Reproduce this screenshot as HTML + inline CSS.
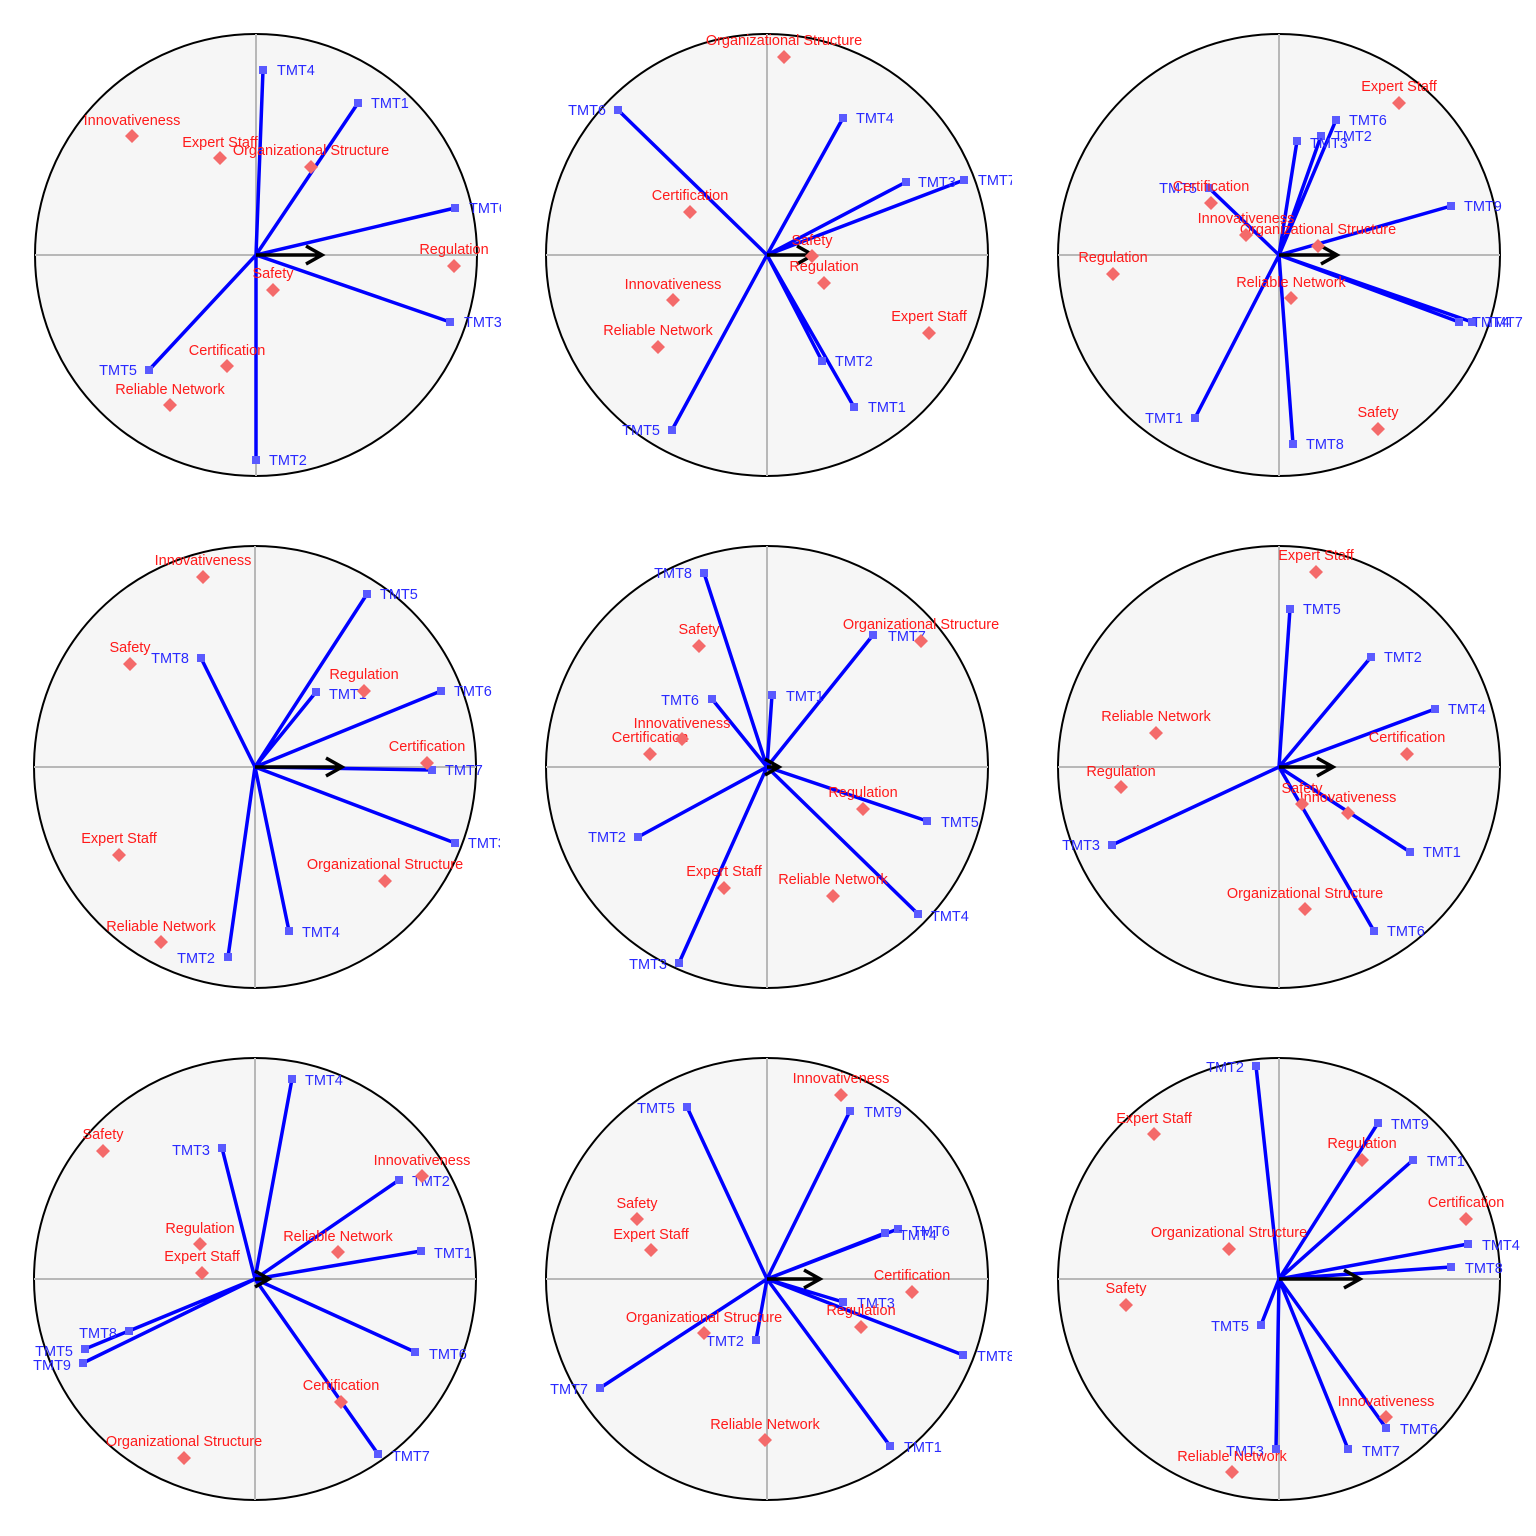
<!DOCTYPE html>
<html><head><meta charset="utf-8"><style>
html,body{margin:0;padding:0;background:#fff}
svg{display:block}
text{font-family:"Liberation Sans",Arial,sans-serif;font-size:14.5px}
.c{fill:#f6f6f6;stroke:#000;stroke-width:2}
.ax{stroke:#b8b8b8;stroke-width:2}
.ln{stroke:#0000ff;stroke-width:3.5;fill:none}
.sq{fill:#5a5aff}
.b{fill:#2a2aff}
.bl{fill:#2a2aff;text-anchor:end}
.r{fill:#ff1a1a;text-anchor:middle}
.d{fill:#f46a6a}
.ar{stroke:#000;stroke-width:3.5;fill:none}
</style></head><body>
<svg width="1536" height="1536" viewBox="0 0 1536 1536" xmlns="http://www.w3.org/2000/svg">
<defs>
<clipPath id="k1"><rect x="11" y="10" width="490" height="490"/></clipPath>
<clipPath id="k2"><rect x="522" y="10" width="490" height="490"/></clipPath>
<clipPath id="k3"><rect x="1034" y="10" width="490" height="490"/></clipPath>
<clipPath id="k4"><rect x="10" y="522" width="490" height="490"/></clipPath>
<clipPath id="k5"><rect x="522" y="522" width="490" height="490"/></clipPath>
<clipPath id="k6"><rect x="1034" y="522" width="490" height="490"/></clipPath>
<clipPath id="k7"><rect x="10" y="1034" width="490" height="490"/></clipPath>
<clipPath id="k8"><rect x="522" y="1034" width="490" height="490"/></clipPath>
<clipPath id="k9"><rect x="1034" y="1034" width="490" height="490"/></clipPath>
</defs>

<!-- Panel 1 -->
<g clip-path="url(#k1)">
<circle class="c" cx="256" cy="255" r="221"/>
<line class="ax" x1="35" y1="255" x2="477" y2="255"/><line class="ax" x1="256" y1="34" x2="256" y2="476"/>
<path class="ln" d="M256 255L263 70M256 255L358 103M256 255L455 208M256 255L450 322M256 255L256 460M256 255L149 370"/>
<path class="ar" d="M256 255H322M306 246L322 255L306 264"/>
<rect class="sq" x="259" y="66" width="8" height="8"/><rect class="sq" x="354" y="99" width="8" height="8"/><rect class="sq" x="451" y="204" width="8" height="8"/><rect class="sq" x="446" y="318" width="8" height="8"/><rect class="sq" x="252" y="456" width="8" height="8"/><rect class="sq" x="145" y="366" width="8" height="8"/>
<text class="b" x="277" y="75">TMT4</text><text class="b" x="371" y="108">TMT1</text><text class="b" x="469" y="213">TMT6</text><text class="b" x="464" y="327">TMT3</text><text class="b" x="269" y="465">TMT2</text><text class="bl" x="137" y="375">TMT5</text>
<text class="r" x="132" y="125">Innovativeness</text><text class="r" x="220" y="147">Expert Staff</text><text class="r" x="311" y="155">Organizational Structure</text><text class="r" x="454" y="254">Regulation</text><text class="r" x="273" y="278">Safety</text><text class="r" x="227" y="355">Certification</text><text class="r" x="170" y="394">Reliable Network</text>
<path class="d" d="M132 129l7 7-7 7-7-7zM220 151l7 7-7 7-7-7zM311 160l7 7-7 7-7-7zM454 259l7 7-7 7-7-7zM273 283l7 7-7 7-7-7zM227 359l7 7-7 7-7-7zM170 398l7 7-7 7-7-7z"/>
</g>

<!-- Panel 2 -->
<g clip-path="url(#k2)">
<circle class="c" cx="767" cy="255" r="221"/>
<line class="ax" x1="546" y1="255" x2="988" y2="255"/><line class="ax" x1="767" y1="34" x2="767" y2="476"/>
<path class="ln" d="M767 255L618 110M767 255L843 118M767 255L906 182M767 255L964 180M767 255L822 361M767 255L854 407M767 255L672 430"/>
<path class="ar" d="M767 255H813M797 246L813 255L797 264"/>
<rect class="sq" x="614" y="106" width="8" height="8"/><rect class="sq" x="839" y="114" width="8" height="8"/><rect class="sq" x="902" y="178" width="8" height="8"/><rect class="sq" x="960" y="176" width="8" height="8"/><rect class="sq" x="818" y="357" width="8" height="8"/><rect class="sq" x="850" y="403" width="8" height="8"/><rect class="sq" x="668" y="426" width="8" height="8"/>
<text class="bl" x="606" y="115">TMT6</text><text class="b" x="856" y="123">TMT4</text><text class="b" x="918" y="187">TMT3</text><text class="b" x="978" y="185">TMT7</text><text class="b" x="835" y="366">TMT2</text><text class="b" x="868" y="412">TMT1</text><text class="bl" x="660" y="435">TMT5</text>
<text class="r" x="784" y="45">Organizational Structure</text><text class="r" x="690" y="200">Certification</text><text class="r" x="812" y="245">Safety</text><text class="r" x="824" y="271">Regulation</text><text class="r" x="929" y="321">Expert Staff</text><text class="r" x="673" y="289">Innovativeness</text><text class="r" x="658" y="335">Reliable Network</text>
<path class="d" d="M784 50l7 7-7 7-7-7zM690 205l7 7-7 7-7-7zM812 249l7 7-7 7-7-7zM824 276l7 7-7 7-7-7zM929 326l7 7-7 7-7-7zM673 293l7 7-7 7-7-7zM658 340l7 7-7 7-7-7z"/>
</g>

<!-- Panel 3 -->
<g clip-path="url(#k3)">
<circle class="c" cx="1279" cy="255" r="221"/>
<line class="ax" x1="1058" y1="255" x2="1500" y2="255"/><line class="ax" x1="1279" y1="34" x2="1279" y2="476"/>
<path class="ln" d="M1279 255L1336 120M1279 255L1321 136M1279 255L1297 141M1279 255L1209 188M1279 255L1451 206M1279 255L1459 322M1279 255L1472 322M1279 255L1195 418M1279 255L1293 444"/>
<path class="ar" d="M1279 255H1337M1321 246L1337 255L1321 264"/>
<rect class="sq" x="1332" y="116" width="8" height="8"/><rect class="sq" x="1317" y="132" width="8" height="8"/><rect class="sq" x="1293" y="137" width="8" height="8"/><rect class="sq" x="1205" y="184" width="8" height="8"/><rect class="sq" x="1447" y="202" width="8" height="8"/><rect class="sq" x="1455" y="318" width="8" height="8"/><rect class="sq" x="1468" y="318" width="8" height="8"/><rect class="sq" x="1191" y="414" width="8" height="8"/><rect class="sq" x="1289" y="440" width="8" height="8"/>
<text class="b" x="1349" y="125">TMT6</text><text class="b" x="1334" y="141">TMT2</text><text class="b" x="1310" y="148">TMT3</text><text class="bl" x="1197" y="193">TMT5</text><text class="b" x="1464" y="211">TMT9</text><text class="b" x="1472" y="327">TMT4</text><text class="b" x="1485" y="327">TMT7</text><text class="bl" x="1183" y="423">TMT1</text><text class="b" x="1306" y="449">TMT8</text>
<text class="r" x="1399" y="91">Expert Staff</text><text class="r" x="1211" y="191">Certification</text><text class="r" x="1246" y="223">Innovativeness</text><text class="r" x="1318" y="234">Organizational Structure</text><text class="r" x="1113" y="262">Regulation</text><text class="r" x="1291" y="287">Reliable Network</text><text class="r" x="1378" y="417">Safety</text>
<path class="d" d="M1399 96l7 7-7 7-7-7zM1211 196l7 7-7 7-7-7zM1246 228l7 7-7 7-7-7zM1318 239l7 7-7 7-7-7zM1113 267l7 7-7 7-7-7zM1291 291l7 7-7 7-7-7zM1378 422l7 7-7 7-7-7z"/>
</g>

<!-- Panel 4 -->
<g clip-path="url(#k4)">
<circle class="c" cx="255" cy="767" r="221"/>
<line class="ax" x1="34" y1="767" x2="476" y2="767"/><line class="ax" x1="255" y1="546" x2="255" y2="988"/>
<path class="ln" d="M255 767L367 594M255 767L201 658M255 767L316 692M255 767L441 691M255 767L432 770M255 767L455 843M255 767L289 931M255 767L228 957"/>
<path class="ar" d="M255 767H342M326 758L342 767L326 776"/>
<rect class="sq" x="363" y="590" width="8" height="8"/><rect class="sq" x="197" y="654" width="8" height="8"/><rect class="sq" x="312" y="688" width="8" height="8"/><rect class="sq" x="437" y="687" width="8" height="8"/><rect class="sq" x="428" y="766" width="8" height="8"/><rect class="sq" x="451" y="839" width="8" height="8"/><rect class="sq" x="285" y="927" width="8" height="8"/><rect class="sq" x="224" y="953" width="8" height="8"/>
<text class="b" x="380" y="599">TMT5</text><text class="bl" x="189" y="663">TMT8</text><text class="b" x="329" y="699">TMT1</text><text class="b" x="454" y="696">TMT6</text><text class="b" x="445" y="775">TMT7</text><text class="b" x="468" y="848">TMT3</text><text class="b" x="302" y="937">TMT4</text><text class="bl" x="215" y="963">TMT2</text>
<text class="r" x="203" y="565">Innovativeness</text><text class="r" x="130" y="652">Safety</text><text class="r" x="364" y="679">Regulation</text><text class="r" x="427" y="751">Certification</text><text class="r" x="119" y="843">Expert Staff</text><text class="r" x="385" y="869">Organizational Structure</text><text class="r" x="161" y="931">Reliable Network</text>
<path class="d" d="M203 570l7 7-7 7-7-7zM130 657l7 7-7 7-7-7zM364 684l7 7-7 7-7-7zM427 756l7 7-7 7-7-7zM119 848l7 7-7 7-7-7zM385 874l7 7-7 7-7-7zM161 935l7 7-7 7-7-7z"/>
</g>

<!-- Panel 5 -->
<g clip-path="url(#k5)">
<circle class="c" cx="767" cy="767" r="221"/>
<line class="ax" x1="546" y1="767" x2="988" y2="767"/><line class="ax" x1="767" y1="546" x2="767" y2="988"/>
<path class="ln" d="M767 767L704 573M767 767L873 635M767 767L772 695M767 767L712 699M767 767L638 837M767 767L927 821M767 767L918 914M767 767L679 963"/>
<path class="ar" d="M767 767H779M765 759L779 767L765 775"/>
<rect class="sq" x="700" y="569" width="8" height="8"/><rect class="sq" x="869" y="631" width="8" height="8"/><rect class="sq" x="768" y="691" width="8" height="8"/><rect class="sq" x="708" y="695" width="8" height="8"/><rect class="sq" x="634" y="833" width="8" height="8"/><rect class="sq" x="923" y="817" width="8" height="8"/><rect class="sq" x="914" y="910" width="8" height="8"/><rect class="sq" x="675" y="959" width="8" height="8"/>
<text class="bl" x="692" y="578">TMT8</text><text class="b" x="888" y="641">TMT7</text><text class="b" x="786" y="701">TMT1</text><text class="bl" x="699" y="705">TMT6</text><text class="bl" x="626" y="842">TMT2</text><text class="b" x="941" y="827">TMT5</text><text class="b" x="931" y="921">TMT4</text><text class="bl" x="667" y="969">TMT3</text>
<text class="r" x="921" y="629">Organizational Structure</text><text class="r" x="699" y="634">Safety</text><text class="r" x="682" y="728">Innovativeness</text><text class="r" x="650" y="742">Certification</text><text class="r" x="863" y="797">Regulation</text><text class="r" x="724" y="876">Expert Staff</text><text class="r" x="833" y="884">Reliable Network</text>
<path class="d" d="M921 634l7 7-7 7-7-7zM699 639l7 7-7 7-7-7zM682 732l7 7-7 7-7-7zM650 747l7 7-7 7-7-7zM863 802l7 7-7 7-7-7zM724 881l7 7-7 7-7-7zM833 889l7 7-7 7-7-7z"/>
</g>

<!-- Panel 6 -->
<g clip-path="url(#k6)">
<circle class="c" cx="1279" cy="767" r="221"/>
<line class="ax" x1="1058" y1="767" x2="1500" y2="767"/><line class="ax" x1="1279" y1="546" x2="1279" y2="988"/>
<path class="ln" d="M1279 767L1290 609M1279 767L1371 657M1279 767L1435 709M1279 767L1410 852M1279 767L1374 931M1279 767L1112 845"/>
<path class="ar" d="M1279 767H1333M1317 758L1333 767L1317 776"/>
<rect class="sq" x="1286" y="605" width="8" height="8"/><rect class="sq" x="1367" y="653" width="8" height="8"/><rect class="sq" x="1431" y="705" width="8" height="8"/><rect class="sq" x="1406" y="848" width="8" height="8"/><rect class="sq" x="1370" y="927" width="8" height="8"/><rect class="sq" x="1108" y="841" width="8" height="8"/>
<text class="b" x="1303" y="614">TMT5</text><text class="b" x="1384" y="662">TMT2</text><text class="b" x="1448" y="714">TMT4</text><text class="b" x="1423" y="857">TMT1</text><text class="b" x="1387" y="936">TMT6</text><text class="bl" x="1100" y="850">TMT3</text>
<text class="r" x="1316" y="560">Expert Staff</text><text class="r" x="1156" y="721">Reliable Network</text><text class="r" x="1407" y="742">Certification</text><text class="r" x="1121" y="776">Regulation</text><text class="r" x="1302" y="793">Safety</text><text class="r" x="1348" y="802">Innovativeness</text><text class="r" x="1305" y="898">Organizational Structure</text>
<path class="d" d="M1316 565l7 7-7 7-7-7zM1156 726l7 7-7 7-7-7zM1407 747l7 7-7 7-7-7zM1121 780l7 7-7 7-7-7zM1302 797l7 7-7 7-7-7zM1348 806l7 7-7 7-7-7zM1305 902l7 7-7 7-7-7z"/>
</g>

<!-- Panel 7 -->
<g clip-path="url(#k7)">
<circle class="c" cx="255" cy="1279" r="221"/>
<line class="ax" x1="34" y1="1279" x2="476" y2="1279"/><line class="ax" x1="255" y1="1058" x2="255" y2="1500"/>
<path class="ln" d="M255 1279L292 1079M255 1279L222 1148M255 1279L399 1180M255 1279L421 1251M255 1279L129 1331M255 1279L85 1349M255 1279L83 1363M255 1279L415 1352M255 1279L378 1454"/>
<path class="ar" d="M255 1279H269M255 1271L269 1279L255 1287"/>
<rect class="sq" x="288" y="1075" width="8" height="8"/><rect class="sq" x="218" y="1144" width="8" height="8"/><rect class="sq" x="395" y="1176" width="8" height="8"/><rect class="sq" x="417" y="1247" width="8" height="8"/><rect class="sq" x="125" y="1327" width="8" height="8"/><rect class="sq" x="81" y="1345" width="8" height="8"/><rect class="sq" x="79" y="1359" width="8" height="8"/><rect class="sq" x="411" y="1348" width="8" height="8"/><rect class="sq" x="374" y="1450" width="8" height="8"/>
<text class="b" x="305" y="1085">TMT4</text><text class="bl" x="210" y="1155">TMT3</text><text class="b" x="412" y="1186">TMT2</text><text class="b" x="434" y="1258">TMT1</text><text class="bl" x="117" y="1338">TMT8</text><text class="bl" x="73" y="1356">TMT5</text><text class="bl" x="71" y="1370">TMT9</text><text class="b" x="429" y="1359">TMT6</text><text class="b" x="392" y="1461">TMT7</text>
<text class="r" x="103" y="1139">Safety</text><text class="r" x="422" y="1165">Innovativeness</text><text class="r" x="200" y="1233">Regulation</text><text class="r" x="202" y="1261">Expert Staff</text><text class="r" x="338" y="1241">Reliable Network</text><text class="r" x="341" y="1390">Certification</text><text class="r" x="184" y="1446">Organizational Structure</text>
<path class="d" d="M103 1144l7 7-7 7-7-7zM422 1169l7 7-7 7-7-7zM200 1237l7 7-7 7-7-7zM202 1266l7 7-7 7-7-7zM338 1245l7 7-7 7-7-7zM341 1395l7 7-7 7-7-7zM184 1451l7 7-7 7-7-7z"/>
</g>

<!-- Panel 8 -->
<g clip-path="url(#k8)">
<circle class="c" cx="767" cy="1279" r="221"/>
<line class="ax" x1="546" y1="1279" x2="988" y2="1279"/><line class="ax" x1="767" y1="1058" x2="767" y2="1500"/>
<path class="ln" d="M767 1279L687 1107M767 1279L850 1111M767 1279L898 1229M767 1279L885 1233M767 1279L843 1302M767 1279L756 1340M767 1279L963 1355M767 1279L600 1388M767 1279L890 1446"/>
<path class="ar" d="M767 1279H820M804 1270L820 1279L804 1288"/>
<rect class="sq" x="683" y="1103" width="8" height="8"/><rect class="sq" x="846" y="1107" width="8" height="8"/><rect class="sq" x="894" y="1225" width="8" height="8"/><rect class="sq" x="881" y="1229" width="8" height="8"/><rect class="sq" x="839" y="1298" width="8" height="8"/><rect class="sq" x="752" y="1336" width="8" height="8"/><rect class="sq" x="959" y="1351" width="8" height="8"/><rect class="sq" x="596" y="1384" width="8" height="8"/><rect class="sq" x="886" y="1442" width="8" height="8"/>
<text class="bl" x="675" y="1113">TMT5</text><text class="b" x="864" y="1117">TMT9</text><text class="b" x="912" y="1236">TMT6</text><text class="b" x="899" y="1240">TMT4</text><text class="b" x="857" y="1308">TMT3</text><text class="bl" x="744" y="1346">TMT2</text><text class="b" x="977" y="1361">TMT8</text><text class="bl" x="588" y="1394">TMT7</text><text class="b" x="904" y="1452">TMT1</text>
<text class="r" x="841" y="1083">Innovativeness</text><text class="r" x="637" y="1208">Safety</text><text class="r" x="651" y="1239">Expert Staff</text><text class="r" x="912" y="1280">Certification</text><text class="r" x="704" y="1322">Organizational Structure</text><text class="r" x="861" y="1315">Regulation</text><text class="r" x="765" y="1429">Reliable Network</text>
<path class="d" d="M841 1088l7 7-7 7-7-7zM637 1212l7 7-7 7-7-7zM651 1243l7 7-7 7-7-7zM912 1285l7 7-7 7-7-7zM704 1326l7 7-7 7-7-7zM861 1320l7 7-7 7-7-7zM765 1433l7 7-7 7-7-7z"/>
</g>

<!-- Panel 9 -->
<g clip-path="url(#k9)">
<circle class="c" cx="1279" cy="1279" r="221"/>
<line class="ax" x1="1058" y1="1279" x2="1500" y2="1279"/><line class="ax" x1="1279" y1="1058" x2="1279" y2="1500"/>
<path class="ln" d="M1279 1279L1256 1066M1279 1279L1378 1123M1279 1279L1413 1160M1279 1279L1468 1244M1279 1279L1451 1267M1279 1279L1261 1325M1279 1279L1386 1428M1279 1279L1348 1449M1279 1279L1276 1449"/>
<path class="ar" d="M1279 1279H1360M1344 1270L1360 1279L1344 1288"/>
<rect class="sq" x="1252" y="1062" width="8" height="8"/><rect class="sq" x="1374" y="1119" width="8" height="8"/><rect class="sq" x="1409" y="1156" width="8" height="8"/><rect class="sq" x="1464" y="1240" width="8" height="8"/><rect class="sq" x="1447" y="1263" width="8" height="8"/><rect class="sq" x="1257" y="1321" width="8" height="8"/><rect class="sq" x="1382" y="1424" width="8" height="8"/><rect class="sq" x="1344" y="1445" width="8" height="8"/><rect class="sq" x="1272" y="1445" width="8" height="8"/>
<text class="bl" x="1244" y="1072">TMT2</text><text class="b" x="1391" y="1129">TMT9</text><text class="b" x="1427" y="1166">TMT1</text><text class="b" x="1482" y="1250">TMT4</text><text class="b" x="1465" y="1273">TMT8</text><text class="bl" x="1249" y="1331">TMT5</text><text class="b" x="1400" y="1434">TMT6</text><text class="b" x="1362" y="1456">TMT7</text><text class="bl" x="1264" y="1456">TMT3</text>
<text class="r" x="1154" y="1123">Expert Staff</text><text class="r" x="1362" y="1148">Regulation</text><text class="r" x="1466" y="1207">Certification</text><text class="r" x="1229" y="1237">Organizational Structure</text><text class="r" x="1126" y="1293">Safety</text><text class="r" x="1386" y="1406">Innovativeness</text><text class="r" x="1232" y="1461">Reliable Network</text>
<path class="d" d="M1154 1127l7 7-7 7-7-7zM1362 1153l7 7-7 7-7-7zM1466 1212l7 7-7 7-7-7zM1229 1242l7 7-7 7-7-7zM1126 1298l7 7-7 7-7-7zM1386 1410l7 7-7 7-7-7zM1232 1465l7 7-7 7-7-7z"/>
</g>
</svg>
</body></html>
